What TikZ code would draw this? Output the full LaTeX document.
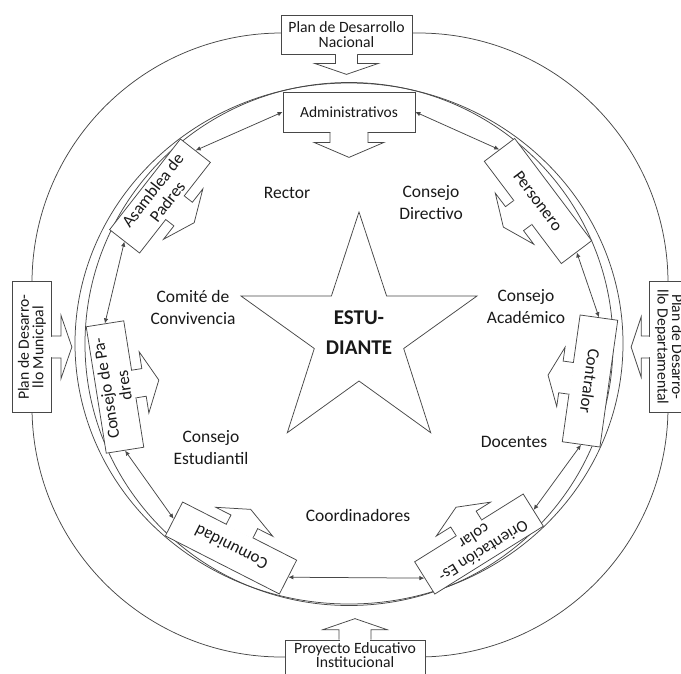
\documentclass[tikz,border=0pt]{standalone}
\usepackage{fontspec}
\setmainfont{Carlito}
\usetikzlibrary{arrows.meta}
\newcommand\myarrow[6]{%
  \begin{scope}[shift={(#1)}, rotate=#2]
    \fill[white] (-#3+0.6,-1.5) rectangle (#3-0.6,#5);
    \draw[ln, fill=white] (-#3,0) -- (-#3,#5) -- (-#4,#5) -- (0,#5+#6) -- (#4,#5) -- (#3,#5) -- (#3,0);
  \end{scope}}
\begin{document}
\begin{tikzpicture}[x=1pt,y=-1pt,
  ln/.style={draw=black!72, line width=0.75pt},
  ibox/.style={ln, fill=white, minimum width=128pt, minimum height=38pt, inner sep=1pt, align=center, text=black!90, font=\fontsize{17}{18.5}\selectfont},
  obox/.style={ln, fill=white, minimum width=131pt, minimum height=39pt, inner sep=1pt, align=center, text=black!90, font=\fontsize{15.7}{14.5}\selectfont},
  lbl/.style={align=center, text=black!90, font=\fontsize{17.5}{22}\selectfont},
  link/.style={ln, {Latex[length=5pt,width=4.5pt]}-{Latex[length=5pt,width=4.5pt]}},
]
\useasboundingbox (0,0) rectangle (681,673);
\clip (0,0) rectangle (681,673);

% outer frame
\draw[ln, rounded corners=250pt] (32,33) rectangle (668,657);
% inner ring
\draw[ln] (349,343.5) ellipse [x radius=274, y radius=260.5];
\draw[ln] (349,344) ellipse [x radius=264, y radius=261.5];

% star
\draw[ln] (359,212) -- (386.6,296) -- (477,296) -- (403.7,348.5) -- (430.7,432.7)
  -- (359,381) -- (287.3,432.7) -- (314.3,348.5) -- (241,296) -- (331.4,296) -- cycle;
\node[align=center, text=black!90, font=\bfseries\fontsize{21}{30}\selectfont] (est) at (359,333) {ESTU-\\DIANTE};

% labels
\node[lbl] (rector) at (287,193) {Rector};
\node[lbl] (cdir) at (431,203) {Consejo\\Directivo};
\node[lbl] (comite) at (193,307) {Comité de\\Convivencia};
\node[lbl] (cacad) at (526,307) {Consejo\\Académico};
\node[lbl] (cest) at (211,448) {Consejo\\Estudiantil};
\node[lbl] (doc) at (514,442) {Docentes};
\node[lbl] (coord) at (358,515) {Coordinadores};

% outer boxes
\node[obox] (nac) at (346.5,34.5) {Plan de Desarrollo\\Nacional};
\myarrow{nac.south}{0}{11}{32}{9}{11}
\node[obox, rotate=90] (mun) at (32,347) {Plan de Desarro-\\llo Municipal};
\myarrow{mun.south}{90}{11}{32}{9}{11}
\node[obox, rotate=-90] (dep) at (669,347) {Plan de Desarro-\\llo Departamental};
\myarrow{dep.south}{-90}{11}{30}{8}{10}
\node[obox, minimum width=140pt, minimum height=40pt] (pro) at (355,660) {};
\node[align=center, text=black!90, font=\fontsize{15.7}{13.5}\selectfont] (protxt) at (355,655) {Proyecto Educativo\\Institucional};
\myarrow{pro.north}{180}{16}{32}{10}{11}

% inner boxes
\node[ibox, minimum width=132pt, minimum height=40pt, font=\fontsize{15.5}{16}\selectfont] (adm) at (349,112) {Administrativos};
\myarrow{adm.south}{0}{19}{35}{10}{15}
\node[ibox, rotate=-53] (per) at (538,201) {Personero};
\myarrow{per.south}{-53}{15}{32}{10}{14}
\node[ibox, rotate=-98] (con) at (590,381) {Contralor};
\myarrow{con.south}{-98}{16}{30}{10}{13}
\node[ibox, rotate=-148, font=\fontsize{16.5}{18}\selectfont] (ori) at (479,544) {Orientación Es-\\colar};
\myarrow{ori.south}{-148}{15}{32}{10}{14}
\node[ibox, rotate=153] (com) at (231,548) {Comunidad};
\myarrow{com.south}{153}{15}{32}{10}{14}
\node[ibox, rotate=99] (cdp) at (115,387) {Consejo de Pa-\\dres};
\myarrow{cdp.south}{99}{14}{31}{10}{15}
\node[ibox, rotate=52, minimum width=115pt] (asa) at (160,196) {Asamblea de\\Padres};
\myarrow{asa.south}{52}{15}{32}{10}{14}

% connectors
\draw[link] (adm.west) -- (asa.east);
\draw[link] (adm.east) -- (per.west);
\draw[link] (per.east) -- (con.west);
\draw[link] (con.east) -- (ori.west);
\draw[link] (ori.east) -- (com.west);
\draw[link] (com.east) -- (cdp.west);
\draw[link] (cdp.east) -- (asa.west);
\end{tikzpicture}
\end{document}
